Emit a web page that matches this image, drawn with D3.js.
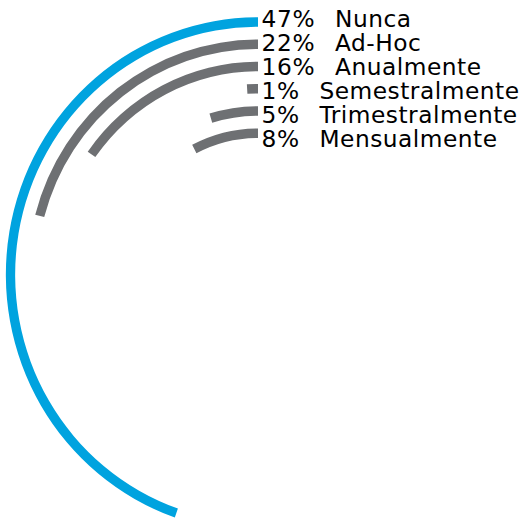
<!DOCTYPE html>
<html>
<head>
<meta charset="utf-8">
<script src="https://cdn.jsdelivr.net/npm/d3@7"></script>
<style>
  html, body { margin: 0; padding: 0; background: #fff; }
  svg { display: block; }
  text { font-family: "DejaVu Sans", Verdana, sans-serif; fill: #000; }
</style>
</head>
<body>
<svg id="chart" width="524" height="519"></svg>
<script>
// Frequency categories, outermost ring first
const categories = ["Nunca", "Ad-Hoc", "Anualmente", "Semestralmente", "Trimestralmente", "Mensualmente"];
// Share of responses (%)
const values = [47, 22, 16, 1, 5, 8];
// Text shown next to each ring
const valueLabels = ["47%", "22%", "16%", "1%", "5%", "8%"];

const width = 524, height = 519;
const cx = 258, cy = 274.6;
const yStretch = 1.0206;       // rings are drawn slightly taller than wide
const ringWidth = 9.3;
const fontSize = 23.3;

const svg = d3.select("#chart");
const g = svg.append("g")
  .attr("transform", `translate(${cx},${cy}) scale(1,${yStretch})`);

// Rings are spaced evenly from the outer edge inward
const radius = d3.scalePoint()
  .domain(categories)
  .range([247.5, 138.6]);

// Percent -> sweep angle (rings run counter-clockwise from 12 o'clock)
const angle = d3.scaleLinear()
  .domain([0, 100])
  .range([0, 342 * Math.PI / 180]);

const color = d3.scaleOrdinal()
  .domain(categories)
  .range(["#00A3DF"].concat(d3.range(categories.length - 1).map(() => "#6E7073")));

const arc = d3.arc()
  .innerRadius(d => radius(d.cat) - ringWidth / 2)
  .outerRadius(d => radius(d.cat) + ringWidth / 2)
  .startAngle(0)
  .endAngle(d => -angle(d.value));

const rows = categories.map((cat, i) => ({ cat, value: values[i], label: valueLabels[i], i }));

g.selectAll("path.ring")
  .data(rows)
  .join("path")
  .attr("class", "ring")
  .attr("d", arc)
  .attr("fill", d => color(d.cat));

// Labels: percent followed by the category name
const labelY = d3.scaleLinear().domain([0, categories.length - 1]).range([27, 147]);
const labelX = 261.5;

const lab = svg.selectAll("g.label")
  .data(rows)
  .join("g")
  .attr("class", "label")
  .attr("transform", d => `translate(${labelX},${labelY(d.i)})`);

lab.append("text")
  .attr("class", "pct")
  .attr("font-size", fontSize)
  .attr("letter-spacing", 0.7)
  .text(d => d.label);

lab.append("text")
  .attr("class", "name")
  .attr("font-size", fontSize)
  .attr("letter-spacing", 0.5)
  .attr("x", function () {
    const pct = d3.select(this.parentNode).select("text.pct").node();
    return pct.getComputedTextLength() + 19.6;
  })
  .text(d => d.cat);
</script>
</body>
</html>
